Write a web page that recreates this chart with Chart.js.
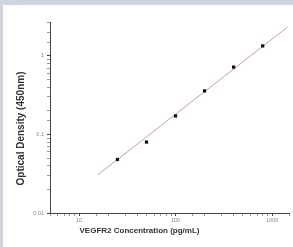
<!DOCTYPE html>
<html>
<head>
<meta charset="utf-8">
<script src="https://cdn.jsdelivr.net/npm/chart.js@4"></script>
<style>
    html, body { margin: 0; padding: 0; }
    body { width: 293px; height: 247px; background: #cdd5e1; position: relative; overflow: hidden; }
    #panel { position: absolute; left: 3px; top: 5px; right: 0; bottom: 0; background: #fff; }
    #curve { position: absolute; left: 0; top: 0; }
</style>
</head>
<body>
<div id="panel"></div>
<canvas id="curve" width="293" height="247"></canvas>
<script>
// standard points
const concentrations = [25, 50, 100, 200, 400, 800]
const densities = [0.048, 0.08, 0.172, 0.358, 0.72, 1.34]

// ends of the fitted line as seen in the picture
const fitX = [15.6, 1455]
const fitY = [0.0305, 2.34]

const xTicks = [10, 100, 1000]
const yTicks = [0.01, 0.1, 1]

const xTitle = 'VEGFR2 Concentration (pg/mL)'
const yTitle = 'Optical Density (450nm)'

function isMajor(list, v) {
    return list.some(t => Math.abs(t - v) / t < 1e-6)
}

// the titles in the original sit off-centre, so they are placed by hand
const axisTitles = {
    id: 'axisTitles',
    afterDraw(chart) {
        const ctx = chart.ctx
        const area = chart.chartArea
        ctx.save()
        ctx.fillStyle = '#333'
        ctx.textAlign = 'center'
        ctx.textBaseline = 'middle'
        ctx.font = 'bold 8px "Liberation Sans"'
        ctx.fillText(xTitle, area.left + 89.5, area.bottom + 18)
        ctx.translate(area.left - 29, area.top + 106.5)
        ctx.rotate(-Math.PI / 2)
        ctx.font = 'bold 10px "Liberation Sans"'
        ctx.fillText(yTitle, 0, 0)
        ctx.restore()
    }
}

document.addEventListener('DOMContentLoaded', () => {

    new Chart(document.getElementById('curve').getContext('2d'), {
        type: 'scatter',
        data: {
            datasets: [{
                type: 'line',
                label: 'Fit',
                data: fitX.map((x, i) => ({ x: x, y: fitY[i] })),
                borderColor: '#cc9e9e',
                borderWidth: 1,
                pointRadius: 0,
                order: 2
            }, {
                label: 'Standards',
                data: concentrations.map((x, i) => ({ x: x, y: densities[i] })),
                pointStyle: 'rect',
                pointRadius: 2.3,
                backgroundColor: '#111',
                borderColor: '#111',
                borderWidth: 0,
                order: 1
            }]
        },
        plugins: [axisTitles],
        options: {
            responsive: false,
            animation: false,
            devicePixelRatio: 1,
            layout: { padding: { top: 22, right: 0, left: 0, bottom: 0 } },
            plugins: {
                legend: { display: false },
                tooltip: { enabled: false }
            },
            scales: {
                x: {
                    type: 'logarithmic',
                    min: 5,
                    max: 1500,
                    afterFit: s => { s.height = 34 },
                    border: { color: '#444', width: 1 },
                    grid: {
                        drawOnChartArea: false,
                        tickLength: 3,
                        tickColor: c => isMajor(xTicks, c.tick.value) ? '#444' : '#999'
                    },
                    ticks: {
                        autoSkip: false,
                        maxRotation: 0,
                        padding: 1,
                        color: '#888',
                        font: { family: 'Liberation Sans', size: 5.5 },
                        callback: v => isMajor(xTicks, v) ? String(v) : ''
                    }
                },
                y: {
                    type: 'logarithmic',
                    min: 0.01,
                    max: 2.7,
                    afterFit: s => { s.width = 50 },
                    border: { color: '#444', width: 1 },
                    grid: {
                        drawOnChartArea: false,
                        tickLength: 3,
                        tickColor: c => isMajor(yTicks, c.tick.value) ? '#444' : '#999'
                    },
                    ticks: {
                        autoSkip: false,
                        padding: 3,
                        color: '#888',
                        font: { family: 'Liberation Sans', size: 5.5 },
                        callback: v => isMajor(yTicks, v) ? String(Number(v.toPrecision(1))) : ''
                    }
                }
            }
        }
    })
})
</script>
</body>
</html>
